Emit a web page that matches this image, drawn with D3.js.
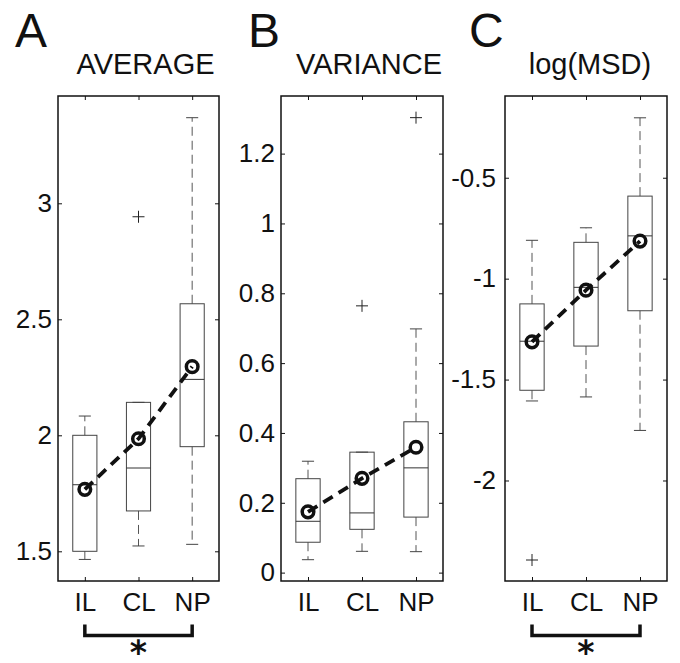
<!DOCTYPE html>
<html>
<head>
<meta charset="utf-8">
<script src="https://cdn.jsdelivr.net/npm/d3@7"></script>
<style>
body { margin: 0; background: #fff; }
svg text { font-family: "Liberation Sans", Arial, Helvetica, sans-serif; fill: #111; }
</style>
</head>
<body>
<script>
// groups along the x axis
var groups = ["IL", "CL", "NP"];

// A: AVERAGE
var avgLow = [1.465, 1.523, 1.530];
var avgQ1 = [1.50, 1.674, 1.951];
var avgMed = [1.787, 1.859, 2.241];
var avgQ3 = [2.00, 2.142, 2.567];
var avgHigh = [2.083, 2.142, 3.369];
var avgMean = [1.767, 1.985, 2.296];
var avgOut = [[], [2.942], []];
var avgTicks = [1.5, 2, 2.5, 3];

// B: VARIANCE
var varLow = [0.037, 0.061, 0.060];
var varQ1 = [0.087, 0.124, 0.159];
var varMed = [0.147, 0.171, 0.300];
var varQ3 = [0.269, 0.345, 0.432];
var varHigh = [0.319, 0.345, 0.698];
var varMean = [0.174, 0.270, 0.359];
var varOut = [[], [0.764], [1.303]];
var varTicks = [0, 0.2, 0.4, 0.6, 0.8, 1, 1.2];

// C: log(MSD)
var msdLow = [-1.606, -1.586, -1.752];
var msdQ1 = [-1.553, -1.334, -1.159];
var msdMed = [-1.310, -1.043, -0.788];
var msdQ3 = [-1.125, -0.820, -0.591];
var msdHigh = [-0.810, -0.748, -0.203];
var msdMean = [-1.313, -1.057, -0.814];
var msdOut = [[-2.394], [], []];
var msdTicks = [-2, -1.5, -1, -0.5];

let width = 680
let height = 663
let plotTop = 96, plotBottom = 581

let svg = d3.select("body").append("svg")
    .attr("width", width)
    .attr("height", height)

drawPanel({ letter: "A", title: "AVERAGE", left: 58, right: 219, letterX: 15, titleShift: 7, pad: 6, ymin: 1.372, ymax: 3.4625,
    low: avgLow, q1: avgQ1, med: avgMed, q3: avgQ3, high: avgHigh, mean: avgMean, out: avgOut, ticks: avgTicks, star: true })
drawPanel({ letter: "B", title: "VARIANCE", left: 281, right: 443, letterX: 248, titleShift: 7, pad: 6, ymin: -0.024, ymax: 1.365,
    low: varLow, q1: varQ1, med: varMed, q3: varQ3, high: varHigh, mean: varMean, out: varOut, ticks: varTicks, star: false })
drawPanel({ letter: "C", title: "log(MSD)", left: 505, right: 667, letterX: 469, titleShift: 4, pad: 9, ymin: -2.498, ymax: -0.095,
    low: msdLow, q1: msdQ1, med: msdMed, q3: msdQ3, high: msdHigh, mean: msdMean, out: msdOut, ticks: msdTicks, star: true })

function drawPanel(p) {
    let x = d3.scalePoint().domain(groups).range([p.left, p.right]).padding(0.5)
    let y = d3.scaleLinear().domain([p.ymin, p.ymax]).range([plotBottom, plotTop])
    let boxW = x.step() * 0.45
    let capW = boxW / 2
    let g = svg.append("g")

    // panel letter + title
    g.append("text").attr("x", p.letterX).attr("y", 47)
        .attr("font-size", 48).text(p.letter)
    g.append("text").attr("x", (p.left + p.right) / 2 + p.titleShift).attr("y", 74)
        .attr("text-anchor", "middle").attr("font-size", 29).text(p.title)

    // axes, ticks pointing inward
    g.append("g").attr("transform", `translate(${p.left},0)`)
        .call(d3.axisLeft(y).tickValues(p.ticks).tickSizeInner(-4).tickSizeOuter(0).tickPadding(p.pad).tickFormat(d => String(d)))
        .attr("font-size", 26).attr("font-family", null)
        .call(a => a.select(".domain").remove())
    g.append("g").attr("transform", `translate(${p.right},0)`)
        .call(d3.axisRight(y).tickValues(p.ticks).tickSizeInner(-4).tickSizeOuter(0).tickFormat(""))
        .call(a => a.select(".domain").remove())
    g.append("g").attr("transform", `translate(0,${plotBottom})`)
        .call(d3.axisBottom(x).tickSizeInner(-4).tickSizeOuter(0).tickPadding(12))
        .attr("font-size", 26).attr("font-family", null)
        .call(a => a.select(".domain").remove())
    g.append("g").attr("transform", `translate(0,${plotTop})`)
        .call(d3.axisTop(x).tickSizeInner(-4).tickSizeOuter(0).tickFormat(""))
        .call(a => a.select(".domain").remove())
    g.selectAll(".tick line").attr("stroke", "#111")

    g.append("rect")
        .attr("x", p.left).attr("y", plotTop)
        .attr("width", p.right - p.left).attr("height", plotBottom - plotTop)
        .attr("fill", "none").attr("stroke", "#111").attr("stroke-width", 1.5)

    // boxes
    let boxes = g.selectAll(".bx").data(groups).enter().append("g").attr("class", "bx")
    boxes.append("line")
        .attr("x1", d => x(d)).attr("x2", d => x(d))
        .attr("y1", (d, i) => y(p.q3[i])).attr("y2", (d, i) => y(p.high[i]))
        .attr("stroke", "#555").attr("stroke-dasharray", "9,5")
    boxes.append("line")
        .attr("x1", d => x(d)).attr("x2", d => x(d))
        .attr("y1", (d, i) => y(p.q1[i])).attr("y2", (d, i) => y(p.low[i]))
        .attr("stroke", "#555").attr("stroke-dasharray", "9,5")
    boxes.append("line")
        .attr("x1", d => x(d) - capW / 2).attr("x2", d => x(d) + capW / 2)
        .attr("y1", (d, i) => y(p.high[i])).attr("y2", (d, i) => y(p.high[i]))
        .attr("stroke", "#444")
    boxes.append("line")
        .attr("x1", d => x(d) - capW / 2).attr("x2", d => x(d) + capW / 2)
        .attr("y1", (d, i) => y(p.low[i])).attr("y2", (d, i) => y(p.low[i]))
        .attr("stroke", "#444")
    boxes.append("rect")
        .attr("x", d => x(d) - boxW / 2).attr("width", boxW)
        .attr("y", (d, i) => y(p.q3[i])).attr("height", (d, i) => y(p.q1[i]) - y(p.q3[i]))
        .attr("fill", "none").attr("stroke", "#444")
    boxes.append("line")
        .attr("x1", d => x(d) - boxW / 2).attr("x2", d => x(d) + boxW / 2)
        .attr("y1", (d, i) => y(p.med[i])).attr("y2", (d, i) => y(p.med[i]))
        .attr("stroke", "#333")

    // outliers as '+'
    let outs = []
    groups.forEach((d, i) => p.out[i].forEach(v => outs.push([d, v])))
    g.selectAll(".out").data(outs).enter().append("path")
        .attr("d", d => `M${x(d[0]) - 6},${y(d[1])}h12M${x(d[0])},${y(d[1]) - 6}v12`)
        .attr("stroke", "#222").attr("fill", "none")

    // means joined by a thick dashed line
    let line = d3.line().x((d, i) => x(groups[i])).y(d => y(d))
    g.append("path").datum(p.mean)
        .attr("d", line)
        .attr("fill", "none").attr("stroke", "#111")
        .attr("stroke-width", 3.8).attr("stroke-dasharray", "11,7")
    g.selectAll(".mean").data(p.mean).enter().append("circle")
        .attr("cx", (d, i) => x(groups[i])).attr("cy", d => y(d))
        .attr("r", 5.8)
        .attr("fill", "none").attr("stroke", "#111").attr("stroke-width", 3.5)

    // significance bracket + star (low asterisk so it fits above the page edge)
    if (p.star) {
        let x1 = x(groups[0]), x2 = x(groups[2])
        g.append("path")
            .attr("d", `M${x1},624.5V635.5H${x2}V624.5`)
            .attr("fill", "none").attr("stroke", "#111").attr("stroke-width", 3.5)
        g.append("text")
            .attr("x", (x1 + x2) / 2).attr("y", 655)
            .attr("text-anchor", "middle").attr("font-size", 33).attr("font-weight", "bold")
            .style("font-family", "'DejaVu Sans', sans-serif")
            .text("\u204E")
    }
}
</script>
</body>
</html>
